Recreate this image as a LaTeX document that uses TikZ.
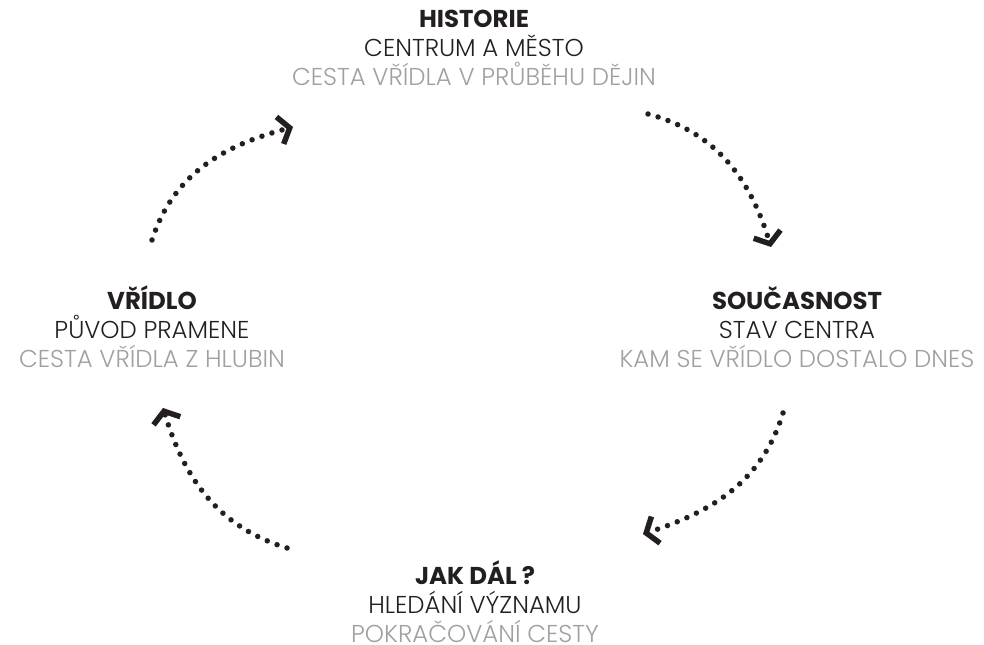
\documentclass[tikz,border=0pt]{standalone}
\usepackage{fontspec}
\setmainfont{Poppins}[UprightFont=* Light, BoldFont=* Bold]
\usepackage{xcolor}
\usepackage{tikz}
\usetikzlibrary{positioning,arrows.meta}

\definecolor{textdark}{RGB}{35,31,32}
\definecolor{textgrey}{RGB}{160,160,160}

\begin{document}
\begin{tikzpicture}[x=1bp, y=1bp,
  phase/.style={align=center, inner sep=0pt, text=textdark, font=\fontsize{24.5}{29}\selectfont},
  cycle arrow/.style={line width=5.5bp, line cap=round, dash pattern=on 0pt off 10.5bp, textdark,
    -{Straight Barb[length=10bp, width=28bp, line width=5.5bp]}}]

\useasboundingbox (0,0) rectangle (984,645);

\node (historie) [phase] at (474,597) {\textbf{HISTORIE}\\CENTRUM A MĚSTO\\\textcolor{textgrey}{CESTA VŘÍDLA V PRŮBĚHU DĚJIN}};

\node (soucasnost) [phase] at (797,318) {\textbf{SOUČASNOST}\\STAV CENTRA\\\textcolor{textgrey}{KAM SE VŘÍDLO DOSTALO DNES}};

\node (jakdal) [phase] at (475,43) {\textbf{JAK DÁL ?}\\HLEDÁNÍ VÝZNAMU\\\textcolor{textgrey}{POKRAČOVÁNÍ CESTY}};

\node (vridlo) [phase] at (152,318) {\textbf{VŘÍDLO}\\PŮVOD PRAMENE\\\textcolor{textgrey}{CESTA VŘÍDLA Z HLUBIN}};

% ends of the dotted arcs
\coordinate (arc1-a) at (152,405);
\coordinate (arc1-b) at (293,518);
\coordinate (arc2-a) at (648,531);
\coordinate (arc2-b) at (771,398);
\coordinate (arc3-a) at (783,232);
\coordinate (arc3-b) at (643,111);
\coordinate (arc4-a) at (287,97);
\coordinate (arc4-b) at (163,237);

\foreach \i/\o/\n in {1/72/195, 2/-15/107, 3/253/18, 4/163/-73}
  \draw [cycle arrow] (arc\i-a) to[out=\o, in=\n] (arc\i-b);

\end{tikzpicture}
\end{document}
